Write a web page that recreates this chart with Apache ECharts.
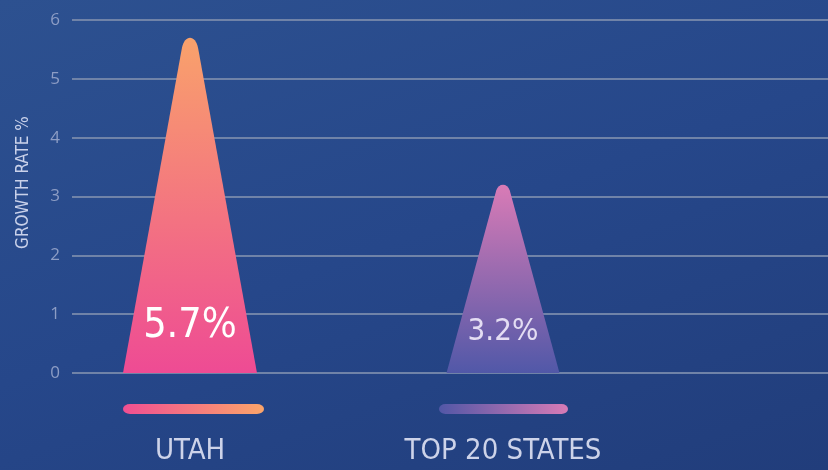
<!DOCTYPE html>
<html>
<head>
<meta charset="utf-8">
<script src="https://cdn.jsdelivr.net/npm/echarts@6/dist/echarts.min.js"></script>
<style>
  html, body { margin: 0; padding: 0; }
  #chart {
    width: 828px; height: 470px;
    background: linear-gradient(160deg, #2d5190 0%, #26478a 50%, #213d7b 100%);
  }
</style>
</head>
<body>
<div id="chart"></div>
<script>
// data
var categories = ['UTAH', 'TOP 20 STATES'];
var growthRates = [5.7, 3.2];
var yMin = 0, yMax = 6, yStep = 1;

// styling per category
var triangleWidths = [134, 113];
var triangleTop = ['#f9a26b', '#d97bb6'];
var triangleBottom = ['#ee4b94', '#5158a8'];
var pillWidths = [141, 129];
var pillShift = [3.5, 0.5];
var pillLeft = ['#f04f92', '#5257a6'];
var pillRight = ['#fba56a', '#d77bb6'];
var labelSizes = [41, 31];
var labelColors = ['#ffffff', '#e4ddf3'];

var narrow = "'Liberation Sans Narrow', 'DejaVu Sans Condensed', sans-serif";
var tri = 'path://M0,100 L44,3 C46,-1 54,-1 56,3 L100,100 Z';
var pill = 'path://M5,0 L95,0 A5,5 0 0 1 95,10 L5,10 A5,5 0 0 1 5,0 Z';

var chart = echarts.init(document.getElementById('chart'));

var option = {
    animation: false,
    grid: [
        { left: 72, right: 0, top: 20, bottom: 97 },
        { left: 33.5, width: 626, top: 20, bottom: 97 }
    ],
    xAxis: [
        { type: 'category', gridIndex: 0, data: categories, show: false },
        {
            type: 'category', gridIndex: 1, data: categories,
            axisLine: { show: false }, axisTick: { show: false },
            axisLabel: { margin: 64, color: '#cdd3e9', fontSize: 29, fontFamily: narrow }
        }
    ],
    yAxis: [
        {
            type: 'value', gridIndex: 0, min: yMin, max: yMax, interval: yStep,
            name: 'GROWTH RATE %', nameLocation: 'middle', nameRotate: 90, nameGap: 40,
            nameTextStyle: { color: '#c9d1ea', fontSize: 17, fontFamily: narrow, padding: [0, 0, 0, 28] },
            axisLine: { show: false }, axisTick: { show: false },
            axisLabel: { margin: 12, color: '#8d9dc5', fontSize: 17, fontFamily: 'Open Sans' },
            splitLine: { lineStyle: { color: '#7083a8', width: 2 } }
        },
        { type: 'value', gridIndex: 1, min: yMin, max: yMax, show: false }
    ],
    series: [
        {
            type: 'pictorialBar',
            xAxisIndex: 1, yAxisIndex: 1,
            symbol: tri,
            symbolPosition: 'start',
            silent: true,
            data: growthRates.map(function (v, i) {
                return {
                    value: v,
                    symbolSize: [triangleWidths[i], '100%'],
                    itemStyle: {
                        color: new echarts.graphic.LinearGradient(0, 0, 0, 1, [
                            { offset: 0, color: triangleTop[i] },
                            { offset: 1, color: triangleBottom[i] }
                        ])
                    },
                    label: {
                        show: true,
                        position: 'insideBottom',
                        distance: 26,
                        formatter: '{c}%',
                        color: labelColors[i],
                        fontSize: labelSizes[i],
                        fontFamily: narrow
                    }
                };
            })
        },
        {
            type: 'scatter',
            xAxisIndex: 1, yAxisIndex: 1,
            clip: false,
            silent: true,
            symbol: pill,
            data: categories.map(function (c, i) {
                return {
                    value: [c, 0],
                    symbolSize: [pillWidths[i], 10],
                    symbolOffset: [pillShift[i], 36],
                    itemStyle: {
                        opacity: 1,
                        color: new echarts.graphic.LinearGradient(0, 0, 1, 0, [
                            { offset: 0, color: pillLeft[i] },
                            { offset: 1, color: pillRight[i] }
                        ])
                    }
                };
            })
        }
    ]
};

chart.setOption(option);
</script>
</body>
</html>
